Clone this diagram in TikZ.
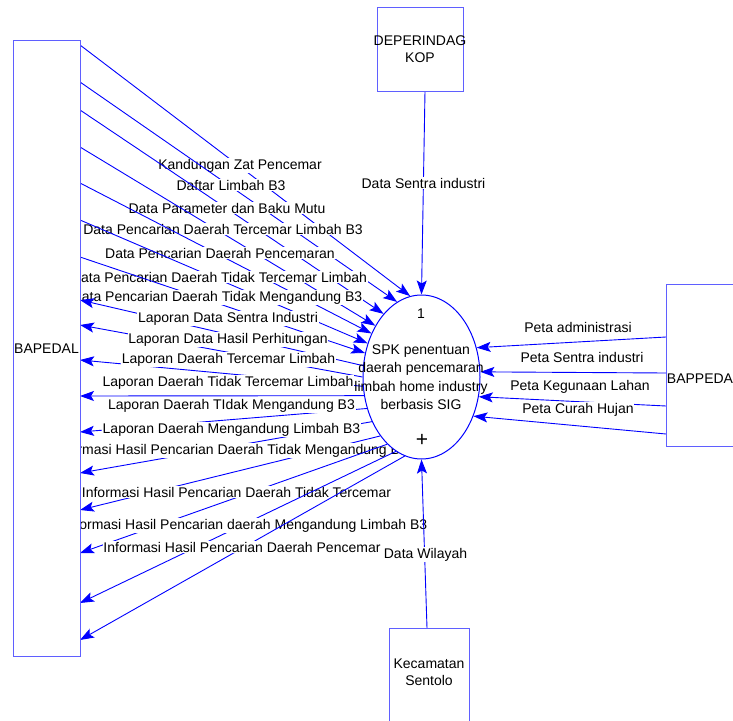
\documentclass[tikz,border=0pt]{standalone}
\usepackage{fontspec}
\setmainfont{Liberation Sans}
\usetikzlibrary{arrows.meta,shapes.geometric}
\pgfdeclarelayer{bg}
\pgfsetlayers{bg,main}
\definecolor{flowblue}{RGB}{0,0,255}
\definecolor{boxblue}{RGB}{95,95,255}
\begin{document}
\begin{tikzpicture}[x=1pt,y=-1pt,
  flow/.style={draw=flowblue, line width=0.9pt, -{Stealth[length=14pt,width=10pt,inset=3pt]}},
  lbl/.style={font=\fontsize{14}{16}\selectfont, fill=white, inner sep=0.8pt, anchor=base, text=black},
  txt/.style={font=\fontsize{14}{16}\selectfont, inner sep=0pt, anchor=base, text=black},
  ent/.style={draw=boxblue, fill=white, line width=1.2pt, inner sep=0pt},
]
\useasboundingbox (0,0) rectangle (733,720);

% entities
\node[ent, minimum width=67pt, minimum height=616pt] (bapedal) at (47,348.5) {};
\node[ent, minimum width=86pt, minimum height=84pt] (deper) at (420.5,49.5) {};
\node[ent, minimum width=80pt, minimum height=102pt] (kec) at (429.5,679.5) {};
\node[ent, minimum width=74pt, minimum height=162pt] (bappeda) at (703.5,365.5) {};
\node[ent, draw=flowblue, line width=1pt, fill=white, ellipse, minimum width=117pt, minimum height=164pt] (spk) at (421.5,377) {};

% entity texts
\node[txt] (tbapedal) at (46.5,353) {BAPEDAL};
\node[txt, align=center, font=\fontsize{14}{17}\selectfont, anchor=center] (tdeper) at (420,49) {DEPERINDAG\\KOP};
\node[txt, align=center, font=\fontsize{14}{17}\selectfont, anchor=center] (tkec) at (429,672) {Kecamatan\\Sentolo};
\node[txt] (tbappeda) at (700,383) {BAPPEDA};
\node[txt] (tnum) at (421,318) {1};
\node[txt] (tl1) at (421,354) {SPK penentuan};
\node[txt] (tl2) at (421,372) {daerah pencemaran};
\node[txt] (tl3) at (421,391) {limbah home industry};
\node[txt] (tl4) at (421,409) {berbasis SIG};
\node[txt, font=\fontsize{21}{21}\selectfont] (tplus) at (422,446) {+};

% end points on entity borders
\coordinate (b1) at (80,45);
\coordinate (b2) at (80,82);
\coordinate (b3) at (80,110);
\coordinate (b4) at (80,147);
\coordinate (b5) at (80,183);
\coordinate (b6) at (80,220);
\coordinate (b7) at (80,257);
\coordinate (o1) at (80,300);
\coordinate (o2) at (80,325);
\coordinate (o3) at (80,360);
\coordinate (o4) at (80,396);
\coordinate (o5) at (80,432);
\coordinate (o6) at (80,473);
\coordinate (o7) at (80,510);
\coordinate (o8) at (80,553);
\coordinate (o9) at (80,603);
\coordinate (o10) at (80,640);
\coordinate (dp) at (425,91);
\coordinate (kc) at (427,628);
\coordinate (r1) at (666,337);
\coordinate (r2) at (666,373);
\coordinate (r3) at (666,406);
\coordinate (r4) at (666,434);

\begin{pgfonlayer}{bg}
% inputs from BAPEDAL
\draw[flow] (b1) -- (spk.98);
\node[lbl] (l1) at (240,169) {Kandungan Zat Pencemar};
\draw[flow] (b2) -- (spk.108);
\node[lbl] (l2) at (231,190) {Daftar Limbah B3};
\draw[flow] (b3) -- (spk.121);
\node[lbl] (l3) at (227,213) {Data Parameter dan Baku Mutu};
\draw[flow] (b4) -- (spk.132);
\node[lbl] (l4) at (223,234) {Data Pencarian Daerah Tercemar Limbah B3};
\draw[flow] (b5) -- (spk.139.5);
\node[lbl] (l5) at (220,258) {Data Pencarian Daerah Pencemaran};
\draw[flow] (b6) -- (spk.148);
\node[lbl] (l6) at (219,282) {Data Pencarian Daerah Tidak Tercemar Limbah};
\draw[flow] (b7) -- (spk.157);
\node[lbl] (l7) at (217,301) {Data Pencarian Daerah Tidak Mengandung B3};
% outputs to BAPEDAL
\draw[flow] (spk.169) -- (o1);
\node[lbl] (m1) at (228,322) {Laporan Data Sentra Industri};
\draw[flow] (spk.180) -- (o2);
\node[lbl] (m2) at (228,343) {Laporan Data Hasil Perhitungan};
\draw[flow] (spk.189) -- (o3);
\node[lbl] (m3) at (228.5,363) {Laporan Daerah Tercemar Limbah};
\draw[flow] (spk.198) -- (o4);
\node[lbl] (m4) at (228,386) {Laporan Daerah Tidak Tercemar Limbah};
\draw[flow] (spk.210) -- (o5);
\node[lbl] (m5) at (231.5,409) {Laporan Daerah TIdak Mengandung B3};
\draw[flow] (spk.222) -- (o6);
\node[lbl] (m6) at (231.5,433) {Laporan Daerah Mengandung Limbah B3};
\draw[flow] (spk.235) -- (o7);
\node[lbl] (m7) at (231,454) {Informasi Hasil Pencarian Daerah Tidak Mengandung B3};
\draw[flow] (spk.243) -- (o8);
\node[lbl] (m8) at (236.5,497) {Informasi Hasil Pencarian Daerah Tidak Tercemar};
\draw[flow] (spk.251) -- (o9);
\node[lbl] (m9) at (245.5,529) {Informasi Hasil Pencarian daerah Mengandung Limbah B3};
\draw[flow] (spk.258) -- (o10);
\node[lbl] (m10) at (242,552) {Informasi Hasil Pencarian Daerah Pencemar};
% other flows
\draw[flow] (dp) -- (spk.north);
\node[lbl] (ld) at (423.5,188) {Data Sentra industri};
\draw[flow] (kc) -- (spk.south);
\node[lbl] (lk) at (425.5,558) {Data Wilayah};
\draw[flow] (r1) -- (spk.28);
\node[lbl] (p1) at (578,332) {Peta administrasi};
\draw[flow] (r2) -- (spk.5);
\node[lbl] (p2) at (582,362) {Peta Sentra industri};
\draw[flow] (r3) -- (spk.341);
\node[lbl] (p3) at (580,390) {Peta Kegunaan Lahan};
\draw[flow] (r4) -- (spk.323.6);
\node[lbl] (p4) at (578,413) {Peta Curah Hujan};
\end{pgfonlayer}
\end{tikzpicture}
\end{document}
